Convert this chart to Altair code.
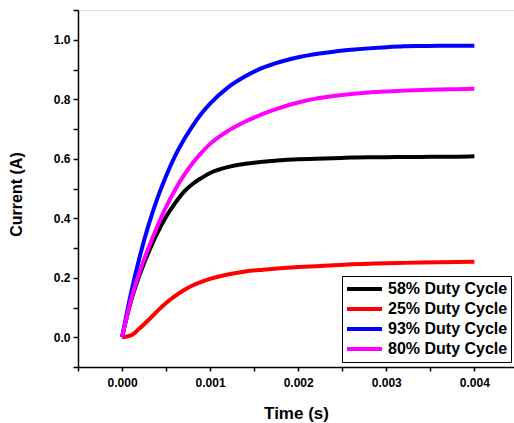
import altair as alt
import pandas as pd

# time in seconds
time_s = [0.0, 0.0001, 0.0002, 0.0003, 0.0004, 0.0005, 0.0006, 0.0007, 0.0008, 0.0009,
          0.0010, 0.0012, 0.0014, 0.0016, 0.0018, 0.0020, 0.0022, 0.0024, 0.0026, 0.0028,
          0.0030, 0.0032, 0.0034, 0.0036, 0.0038, 0.0040]

duty58 = [0.0, 0.12, 0.21, 0.285, 0.35, 0.405, 0.45, 0.488, 0.515, 0.535,
          0.552, 0.572, 0.583, 0.590, 0.595, 0.598, 0.600, 0.602, 0.604, 0.605,
          0.605, 0.606, 0.606, 0.607, 0.607, 0.608]
duty25 = [0.0, 0.006, 0.030, 0.058, 0.088, 0.115, 0.138, 0.158, 0.174, 0.186,
          0.196, 0.211, 0.221, 0.227, 0.232, 0.236, 0.239, 0.242, 0.245, 0.247,
          0.249, 0.250, 0.251, 0.252, 0.253, 0.254]
duty93 = [0.0, 0.146, 0.270, 0.376, 0.466, 0.542, 0.608, 0.663, 0.710, 0.751,
          0.785, 0.839, 0.877, 0.906, 0.926, 0.941, 0.952, 0.960, 0.966, 0.971,
          0.975, 0.978, 0.979, 0.980, 0.980, 0.980]
duty80 = [0.0, 0.124, 0.220, 0.300, 0.372, 0.438, 0.494, 0.543, 0.585, 0.620,
          0.650, 0.693, 0.725, 0.751, 0.772, 0.789, 0.802, 0.811, 0.818, 0.823,
          0.826, 0.829, 0.831, 0.833, 0.834, 0.835]

series_names = ["58% Duty Cycle", "25% Duty Cycle", "93% Duty Cycle", "80% Duty Cycle"]
series_values = [duty58, duty25, duty93, duty80]
series_colors = ["#000000", "#ff0000", "#0000ff", "#ff00ff"]

x_ticks = [-0.0005, 0.0, 0.0005, 0.001, 0.0015, 0.002, 0.0025, 0.003, 0.0035, 0.004]
y_ticks = [-0.1, 0.0, 0.1, 0.2, 0.3, 0.4, 0.5, 0.6, 0.7, 0.8, 0.9, 1.0, 1.1]

rows = []
for name, vals in zip(series_names, series_values):
    for i, (t, v) in enumerate(zip(time_s, vals)):
        rows.append({"series": name, "time": t, "current": v, "order": i})
df = pd.DataFrame(rows)

FONT = "Liberation Sans"

chart = alt.Chart(df).mark_line(strokeWidth=4, interpolate="monotone").encode(
    x=alt.X("time:Q",
            scale=alt.Scale(domain=[-0.0005, 0.00445], nice=False, zero=False),
            axis=alt.Axis(values=x_ticks, title="Time (s)", grid=False,
                          labelExpr="round(datum.value*2000) % 2 == 0 ? format(datum.value, '.3f') : ''",
                          labelFont=FONT, labelFontSize=12, labelFontWeight="bold", labelColor="black",
                          labelPadding=6, tickSize=4, tickColor="black", tickWidth=1.5,
                          domainColor="black", domainWidth=1.5, labelOverlap=False, labelFlush=False,
                          titleFont=FONT, titleFontSize=17, titleFontWeight="bold", titleColor="black",
                          titleX=218, titleY=51, titleBaseline="alphabetic", titleAlign="center")),
    y=alt.Y("current:Q",
            scale=alt.Scale(domain=[-0.1, 1.1], nice=False, zero=False),
            axis=alt.Axis(values=y_ticks, title="Current (A)", grid=False,
                          labelExpr="round(datum.value*10) % 2 == 0 ? format(datum.value, '.1f') : ''",
                          labelFont=FONT, labelFontSize=12, labelFontWeight="bold", labelColor="black",
                          labelPadding=3, tickSize=5, tickColor="black", tickWidth=1.5,
                          domainColor="black", domainWidth=1.5, labelOverlap=False, labelFlush=False,
                          titleFont=FONT, titleFontSize=16, titleFontWeight="bold", titleColor="black",
                          titleX=-62, titleY=184, titleAngle=-90, titleBaseline="middle",
                          titleAlign="center")),
    color=alt.Color("series:N",
                    scale=alt.Scale(domain=series_names, range=series_colors),
                    legend=alt.Legend(orient="none", legendX=264, legendY=266, title=None,
                                      symbolType="stroke", symbolStrokeWidth=4, symbolSize=1225,
                                      clipHeight=20, rowPadding=0, padding=3, labelOffset=4,
                                      labelFont=FONT, labelFontSize=16, labelFontWeight="bold",
                                      labelColor="black", strokeColor="black", fillColor="white",
                                      labelLimit=300)),
    order=alt.Order("order:Q"),
    detail="series:N",
).properties(
    width=436, height=357,
    padding={"left": 78, "top": 10, "right": 0, "bottom": 56},
    autosize=alt.AutoSizeParams(type="none"),
).configure_view(stroke=None).configure(background="white")

chart.save("out.html", embed_options={"renderer": "svg", "actions": False})
